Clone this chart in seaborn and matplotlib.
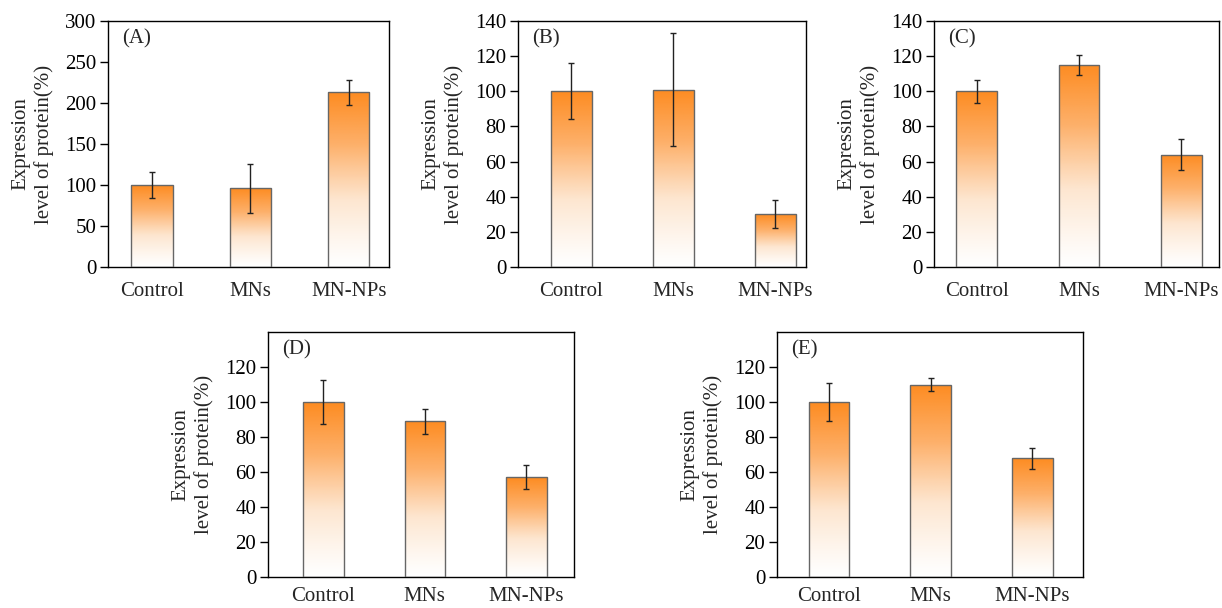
import numpy as np
import pandas as pd
import matplotlib
matplotlib.use("Agg")
import matplotlib.pyplot as plt
from matplotlib.colors import LinearSegmentedColormap
import seaborn as sns

# ---- data ----
groups = ["Control", "MNs", "MN-NPs"]
panel_labels = ["(A)", "(B)", "(C)", "(D)", "(E)"]
means_A = [100, 96, 213]
errs_A = [16, 30, 15]
means_B = [100, 101, 30]
errs_B = [16, 32, 8]
means_C = [100, 115, 64]
errs_C = [6.5, 5.8, 9]
means_D = [100, 89, 57]
errs_D = [12.4, 7, 6.8]
means_E = [100, 110, 68]
errs_E = [10.6, 3.6, 6]
yticks_A = [0, 50, 100, 150, 200, 250, 300]
yticks_BC = [0, 20, 40, 60, 80, 100, 120, 140]
yticks_DE = [0, 20, 40, 60, 80, 100, 120]
ylabel = "Expression\nlevel of protein(%)"

sns.set_theme(style="white")
plt.rcParams["font.family"] = ["Liberation Serif", "DejaVu Serif"]
plt.rcParams["mathtext.fontset"] = "stix"

W, H = 1222, 608
fig = plt.figure(figsize=(W / 100, H / 100), dpi=100)

def px_axes(l, r, t, b):
    return fig.add_axes([l / W, 1 - b / H, (r - l) / W, (b - t) / H])

cmap = LinearSegmentedColormap.from_list("og", ["#ffffff", "#fde6d0", "#fdb06a", "#fd8c22"], N=256)
grad = np.linspace(0, 1, 256).reshape(-1, 1) ** 1.15

panels = [
    (means_A, errs_A, yticks_A, (0, 300), (-0.447, 2.41), (108, 389, 21, 267), 0.42, 11),
    (means_B, errs_B, yticks_BC, (0, 140), (-0.52, 2.30), (518, 806, 21, 267), 0.40, 11),
    (means_C, errs_C, yticks_BC, (0, 140), (-0.42, 2.37), (934, 1219, 21, 267), 0.40, 11),
    (means_D, errs_D, yticks_DE, (0, 140), (-0.545, 2.47), (268, 574, 332, 577), 0.40, 7.5),
    (means_E, errs_E, yticks_DE, (0, 140), (-0.51, 2.50), (777, 1083, 332, 577), 0.40, 7.5),
]

for (means, errs, yt, ylim, xlim, box, bw, xpad), lab in zip(panels, panel_labels):
    ax = px_axes(*box)
    df = pd.DataFrame({"group": groups, "value": means})
    sns.barplot(data=df, x="group", y="value", ax=ax, width=bw,
                color="white", edgecolor="#666666", linewidth=1.0,
                errorbar=None, zorder=2)
    for p in ax.patches:
        x0, y0 = p.get_x(), p.get_y()
        w, h = p.get_width(), p.get_height()
        im = ax.imshow(grad, cmap=cmap, origin="lower", aspect="auto",
                       extent=[x0, x0 + w, y0, y0 + h], zorder=2.5,
                       interpolation="bilinear")
        im.set_clip_path(p)
        p.set_facecolor("none")
        p.set_zorder(3)
    ax.errorbar(np.arange(len(groups)), means, yerr=errs, fmt="none",
                ecolor="#222222", elinewidth=1.0, capsize=2.2, capthick=1.0, zorder=4)
    ax.set_xlim(*xlim)
    ax.set_ylim(*ylim)
    ax.set_yticks(yt)
    ax.set_xlabel("")
    ax.set_ylabel(ylabel, fontsize=15, labelpad=8, linespacing=1.25)
    ax.tick_params(axis="y", direction="out", length=5.5, width=1, labelsize=15,
                   left=True, colors="black", pad=3)
    ax.tick_params(axis="x", length=0, labelsize=15, pad=xpad)
    for s in ax.spines.values():
        s.set_visible(True)
        s.set_color("black")
        s.set_linewidth(1.0)
    ax.annotate(lab, xy=(0, 1), xycoords="axes fraction", xytext=(10, -6),
                textcoords="offset points", ha="left", va="top", fontsize=15)

fig.savefig("out.png", dpi=100, facecolor="white")
